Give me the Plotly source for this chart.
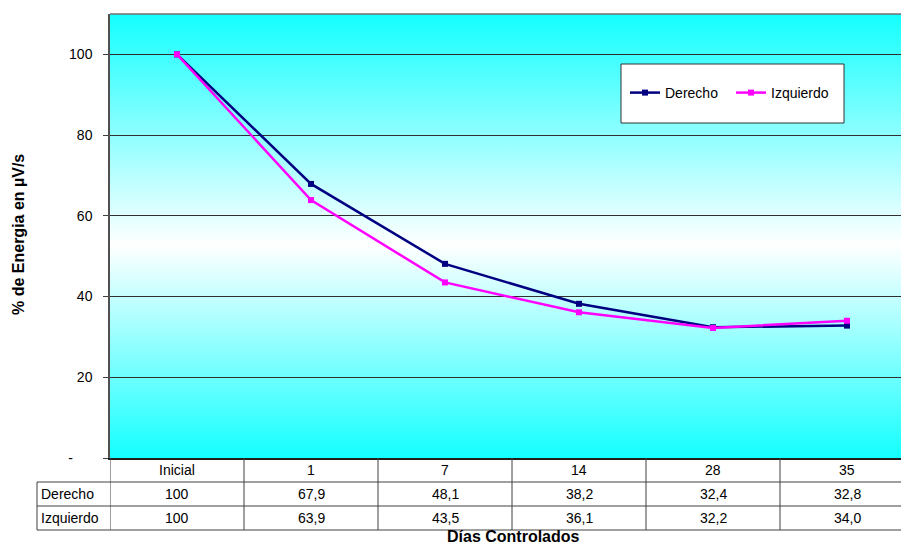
import base64
import plotly.graph_objects as go

# Data
categorias = ["Inicial", "1", "7", "14", "28", "35"]
derecho = [100, 67.9, 48.1, 38.2, 32.4, 32.8]
izquierdo = [100, 63.9, 43.5, 36.1, 32.2, 34.0]
y_ticks = [0, 20, 40, 60, 80, 100]
y_ticktext = ["-\u00a0\u00a0\u00a0\u00a0\u00a0", "20", "40", "60", "80", "100"]

W, H = 901, 544
LEFT, TOP, BOTTOM = 110, 14, 458
COL_W = 134
ROW_H = 24
LABEL_LEFT = 37
FONT = "Liberation Sans, Arial, sans-serif"
GRID = "#303030"


def py(pix):
    """Pixel row -> paper y."""
    return 1 - pix / H


def px(pix):
    """Pixel column -> paper x."""
    return pix / W


def fmt(v):
    return f"{v:g}" if v >= 100 else f"{v:.1f}".replace(".", ",")


idx = list(range(len(categorias)))
x_hi = -0.5 + (W - LEFT) / COL_W

# Vertical gradient for the plot area: cyan - white - cyan
svg = (
    '<svg xmlns="http://www.w3.org/2000/svg" width="10" height="100" preserveAspectRatio="none">'
    '<defs><linearGradient id="g" x1="0" y1="0" x2="0" y2="1">'
    '<stop offset="0" stop-color="#14FFFF"/>'
    '<stop offset="0.52" stop-color="#FFFFFF"/>'
    '<stop offset="1" stop-color="#14FFFF"/>'
    '</linearGradient></defs>'
    '<rect x="0" y="0" width="10" height="100" fill="url(#g)"/></svg>'
)
grad_src = "data:image/svg+xml;base64," + base64.b64encode(svg.encode()).decode()

fig = go.Figure()
fig.add_trace(go.Scatter(
    x=idx, y=derecho, name="Derecho", mode="lines+markers",
    line=dict(color="#000080", width=2.5),
    marker=dict(symbol="square", size=6, color="#000080"),
))
fig.add_trace(go.Scatter(
    x=idx, y=izquierdo, name="Izquierdo", mode="lines+markers",
    line=dict(color="#FF00FF", width=2.5),
    marker=dict(symbol="square", size=6, color="#FF00FF"),
))

shapes = []
annotations = []

# Top border of the plot area
shapes.append(dict(type="line", xref="paper", yref="paper",
                   x0=px(LEFT), x1=1, y0=py(TOP), y1=py(TOP),
                   line=dict(color="#707070", width=1.5)))

# Legend frame
shapes.append(dict(type="rect", xref="paper", yref="paper",
                   x0=px(621), x1=px(844), y0=py(64), y1=py(123),
                   fillcolor="white", line=dict(color="#333333", width=1), layer="above"))

# Data table under the plot
tbl_line = dict(color="#404040", width=1)
for k in range(len(categorias) + 1):
    shapes.append(dict(type="line", xref="x", yref="paper",
                       x0=k - 0.5, x1=k - 0.5,
                       y0=py(BOTTOM), y1=py(BOTTOM + 3 * ROW_H), line=tbl_line))
for r in (1, 2, 3):
    shapes.append(dict(type="line", xref="paper", yref="paper",
                       x0=px(LABEL_LEFT), x1=1,
                       y0=py(BOTTOM + r * ROW_H), y1=py(BOTTOM + r * ROW_H), line=tbl_line))
shapes.append(dict(type="line", xref="paper", yref="paper",
                   x0=px(LABEL_LEFT), x1=px(LABEL_LEFT),
                   y0=py(BOTTOM + ROW_H), y1=py(BOTTOM + 3 * ROW_H), line=tbl_line))

cell_font = dict(family=FONT, size=14, color="black")
for i, c in zip(idx, categorias):
    annotations.append(dict(xref="x", yref="paper", x=i, y=py(BOTTOM + ROW_H / 2),
                            xanchor="center", yanchor="middle",
                            text=c, showarrow=False, font=cell_font))
for r, (name, vals) in enumerate([("Derecho", derecho), ("Izquierdo", izquierdo)], start=1):
    yc = py(BOTTOM + r * ROW_H + ROW_H / 2)
    annotations.append(dict(xref="paper", yref="paper", x=px(LABEL_LEFT + 2), y=yc,
                            xanchor="left", yanchor="middle",
                            text=name, showarrow=False, font=cell_font))
    for i, v in zip(idx, vals):
        annotations.append(dict(xref="x", yref="paper", x=i, y=yc, text=fmt(v),
                                xanchor="center", yanchor="middle",
                                showarrow=False, font=cell_font))

# Axis titles
annotations.append(dict(xref="paper", yref="paper", x=px(513), y=py(536.5),
                        xanchor="center", yanchor="middle", borderpad=0,
                        text="<b>Días Controlados</b>", showarrow=False,
                        font=dict(family=FONT, size=16, color="black")))
annotations.append(dict(xref="paper", yref="paper", x=px(18), y=py(235),
                        xanchor="center", yanchor="middle",
                        text="<b>% de Energia en µV/s</b>", textangle=-90, showarrow=False,
                        font=dict(family=FONT, size=16, color="black")))

fig.update_layout(
    width=W, height=H,
    margin=dict(l=0, r=0, t=0, b=0, autoexpand=False),
    paper_bgcolor="white", plot_bgcolor="white",
    font=dict(family=FONT, size=14, color="black"),
    showlegend=True,
    legend=dict(orientation="h", x=px(625), y=py(93), xanchor="left", yanchor="middle",
                bgcolor="rgba(0,0,0,0)", font=dict(family=FONT, size=14, color="black"),
                entrywidth=61, itemclick=False),
    xaxis=dict(domain=[px(LEFT), 1], range=[-0.5, x_hi], automargin=False,
               showticklabels=False, showgrid=False, zeroline=False, ticks="",
               showline=True, linecolor="#202020", linewidth=1.5),
    yaxis=dict(domain=[py(BOTTOM), py(TOP)], range=[0, 110], automargin=False,
               tickvals=y_ticks, ticktext=y_ticktext, ticks="outside", ticklen=5,
               tickcolor="#404040", ticklabelstandoff=8,
               showgrid=True, gridcolor=GRID, gridwidth=1, zeroline=False,
               showline=True, linecolor="#505050", linewidth=1.5,
               tickfont=dict(family=FONT, size=14, color="black")),
    images=[dict(source=grad_src, xref="x", yref="y", x=-0.5, y=110,
                 sizex=len(categorias), sizey=110, sizing="stretch", layer="below")],
    shapes=shapes,
    annotations=annotations,
)

fig.write_html("out.html")
